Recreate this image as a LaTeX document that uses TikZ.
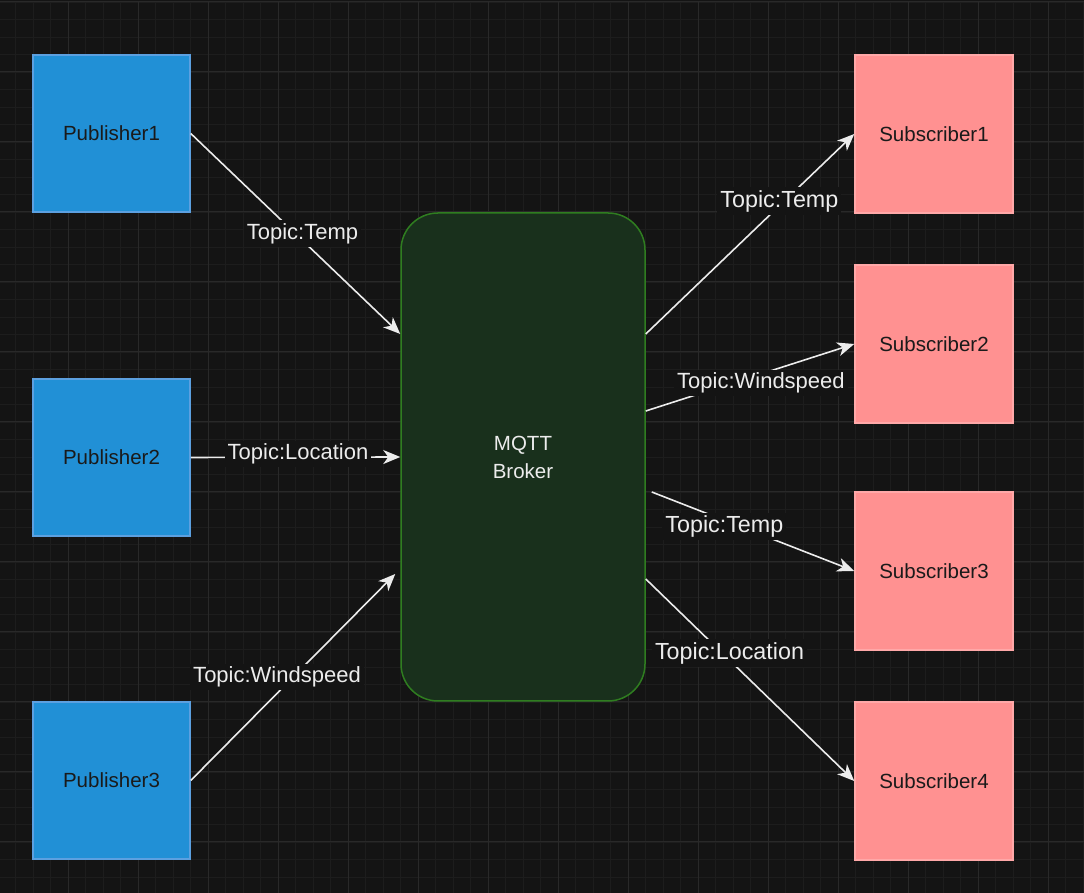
\documentclass[tikz,border=0pt]{standalone}
\usepackage{fontspec}
\setmainfont{Liberation Sans}
\usetikzlibrary{arrows.meta}

\definecolor{bgc}{RGB}{20,20,20}
\definecolor{gridminor}{RGB}{29,29,29}
\definecolor{gridmajor}{RGB}{41,41,41}
\definecolor{pubfill}{RGB}{33,144,214}
\definecolor{publine}{RGB}{92,160,224}
\definecolor{subfill}{RGB}{255,145,145}
\definecolor{subline}{RGB}{255,168,168}
\definecolor{brokerfill}{RGB}{25,48,28}
\definecolor{brokerline}{RGB}{47,125,32}
\definecolor{arrowc}{RGB}{236,236,236}
\definecolor{boxtext}{RGB}{26,26,26}

\tikzset{
  pubbox/.style={draw=publine, fill=pubfill, line width=1.5pt, minimum width=157pt, minimum height=157pt, inner sep=0pt, text=boxtext, font=\fontsize{20.5}{25}\selectfont},
  subbox/.style={draw=subline, fill=subfill, line width=1.5pt, minimum width=158pt, minimum height=158pt, inner sep=0pt, text=boxtext, font=\fontsize{20.5}{25}\selectfont},
  brokerbox/.style={draw=brokerline, fill=brokerfill, line width=1.5pt, rounded corners=37pt, minimum width=244pt, minimum height=488pt, inner sep=0pt, text=arrowc, align=center, font=\fontsize{20.5}{28}\selectfont},
  conn/.style={->, >={Stealth[length=17pt,width=14pt,inset=5pt]}, draw=arrowc, line width=1.6pt},
  lbl/.style={fill=bgc, text=arrowc, inner sep=3pt, font=\fontsize{22}{26}\selectfont},
  lblbig/.style={lbl, font=\fontsize{23.3}{27}\selectfont}
}

\begin{document}
\begin{tikzpicture}[x=1pt, y=1pt]
        \useasboundingbox (0,0) rectangle (1084,893);
        \fill[bgc] (0,0) rectangle (1084,893);
        \begin{scope}
        \clip (0,0) rectangle (1084,893);
        \draw[gridminor, line width=0.8pt, step=17.5, shift={(-2,891)}] (0,-910) grid (1100,0);
        \draw[gridmajor, line width=1pt, step=70, shift={(-2,891)}] (0,-910) grid (1100,0);
        \end{scope}
        \node[pubbox] (pub1) at (111.5,759.5) {Publisher1};
        \node[pubbox] (pub2) at (111.5,435.5) {Publisher2};
        \node[pubbox] (pub3) at (111.5,112.5) {Publisher3};
        \node[brokerbox] (broker) at (523,436) {MQTT\\Broker};
        \node[subbox] (sub1) at (934,759) {Subscriber1};
        \node[subbox] (sub2) at (934,549) {Subscriber2};
        \node[subbox] (sub3) at (934,322) {Subscriber3};
        \node[subbox] (sub4) at (934,112) {Subscriber4};
        \draw[conn] (pub1.east) -- node[lbl, pos=.5, xshift=7pt] {Topic:Temp} ([yshift=123pt]broker.west);
        \draw[conn] (pub2.east) -- node[lbl, pos=.5, xshift=2.5pt, yshift=3pt] {Topic:Location} (broker.west);
        \draw[conn] (pub3.east) -- node[lbl, pos=.5, xshift=-16pt] {Topic:Windspeed} ([xshift=-5pt, yshift=-117pt]broker.west);
        \draw[conn] ([yshift=123pt]broker.east) -- node[lblbig, pos=.665, xshift=-5pt] {Topic:Temp} (sub1.west);
        \draw[conn] ([yshift=46pt]broker.east) -- node[lbl, pos=.418, xshift=28pt] {Topic:Windspeed} (sub2.west);
        \draw[conn] ([xshift=6pt, yshift=-35pt]broker.east) -- node[lblbig, pos=.4375, xshift=-16pt] {Topic:Temp} (sub3.west);
        \draw[conn] ([yshift=-122pt]broker.east) -- node[lblbig, pos=.368, xshift=7pt] {Topic:Location} (sub4.west);
\end{tikzpicture}
\end{document}
